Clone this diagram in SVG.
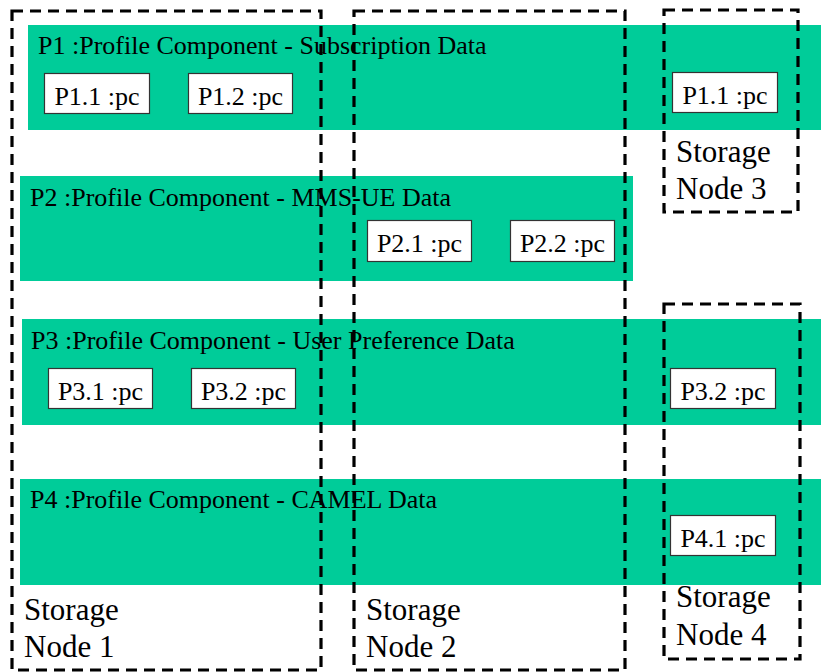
<svg xmlns="http://www.w3.org/2000/svg" width="821" height="672" viewBox="0 0 821 672">
<style>
.band{fill:#00cc99;stroke:none}
.pc{fill:#ffffff;stroke:#333333;stroke-width:1.2}
.pct{text-anchor:middle}
.sn{fill:none;stroke:#000;stroke-width:3.2;stroke-dasharray:11 7}
.snt{font-size:31px}
</style>
<rect width="821" height="672" fill="#ffffff"/>
<g font-family="'Liberation Serif', 'DejaVu Serif', serif" font-size="26" fill="#000">
<g id="P1">
<rect class="band" x="28" y="25" width="793" height="105"/>
<text x="38" y="54">P1 :Profile Component - Subscription Data</text>
</g>
<g id="P2">
<rect class="band" x="20" y="176" width="613" height="105"/>
<text x="30" y="206">P2 :Profile Component - MMS-UE Data</text>
</g>
<g id="P3">
<rect class="band" x="22" y="319" width="799" height="106"/>
<text x="31" y="349">P3 :Profile Component - User Preference Data</text>
</g>
<g id="P4">
<rect class="band" x="20" y="479" width="801" height="106"/>
<text x="30" y="508">P4 :Profile Component - CAMEL Data</text>
</g>
<g id="P1.1a"><rect class="pc" x="44.5" y="73.5" width="105" height="40"/><text class="pct" x="97" y="105">P1.1 :pc</text></g>
<g id="P1.2"><rect class="pc" x="188.5" y="73.5" width="104" height="40"/><text class="pct" x="240.5" y="105">P1.2 :pc</text></g>
<g id="P1.1b"><rect class="pc" x="672.5" y="72.5" width="105" height="40"/><text class="pct" x="725" y="104">P1.1 :pc</text></g>
<g id="P2.1"><rect class="pc" x="367.5" y="220.5" width="104" height="41"/><text class="pct" x="419.5" y="252">P2.1 :pc</text></g>
<g id="P2.2"><rect class="pc" x="510.5" y="220.5" width="104" height="41"/><text class="pct" x="562.5" y="252">P2.2 :pc</text></g>
<g id="P3.1"><rect class="pc" x="48.5" y="368.5" width="104" height="40"/><text class="pct" x="100.5" y="400">P3.1 :pc</text></g>
<g id="P3.2a"><rect class="pc" x="191.5" y="368.5" width="104" height="40"/><text class="pct" x="243.5" y="400">P3.2 :pc</text></g>
<g id="P3.2b"><rect class="pc" x="670.5" y="368.5" width="105" height="40"/><text class="pct" x="723" y="400">P3.2 :pc</text></g>
<g id="P4.1"><rect class="pc" x="670.5" y="515.5" width="105" height="40"/><text class="pct" x="723" y="547">P4.1 :pc</text></g>
<g id="SN1">
<rect class="sn" x="12" y="11" width="309" height="659"/>
<text class="snt" x="24" y="620">Storage</text>
<text class="snt" x="24" y="657">Node 1</text>
</g>
<g id="SN2">
<rect class="sn" x="354" y="11" width="271" height="659"/>
<text class="snt" x="366" y="620">Storage</text>
<text class="snt" x="366" y="657">Node 2</text>
</g>
<g id="SN3">
<rect class="sn" x="664" y="10" width="134" height="202"/>
<text class="snt" x="676" y="162">Storage</text>
<text class="snt" x="676" y="199">Node 3</text>
</g>
<g id="SN4">
<rect class="sn" x="664" y="304" width="136" height="355"/>
<text class="snt" x="676" y="607">Storage</text>
<text class="snt" x="676" y="645">Node 4</text>
</g>
</g>
<g id="connectors"/>
</svg>
